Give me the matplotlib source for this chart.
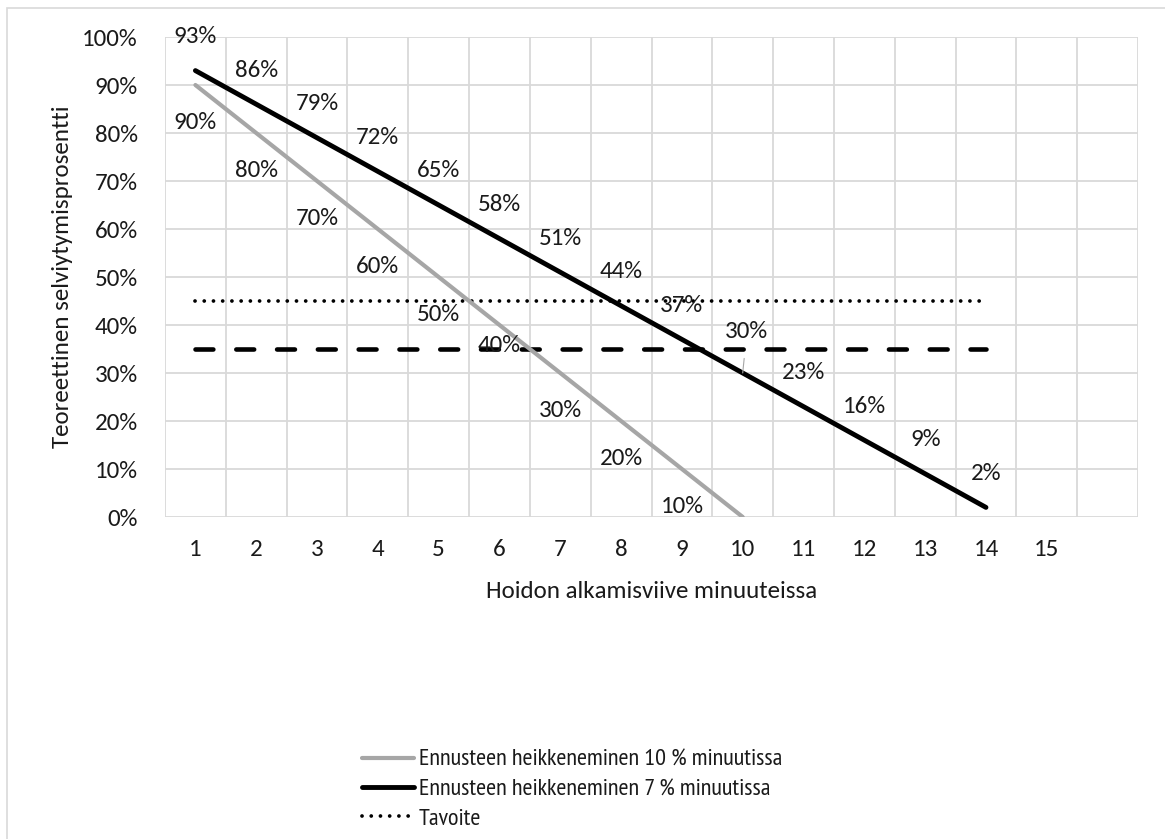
import matplotlib
matplotlib.use("Agg")
import matplotlib.pyplot as plt
from matplotlib.lines import Line2D
from matplotlib.patches import Rectangle

plt.rcParams['font.family'] = ['Carlito', 'DejaVu Sans']

# Data
minutes = list(range(1, 17))
tick_labels = [str(m) for m in range(1, 16)] + [""]
x_gray = list(range(1, 11))
survival_10 = [90, 80, 70, 60, 50, 40, 30, 20, 10, 0]
x_black = list(range(1, 15))
survival_7 = [93, 86, 79, 72, 65, 58, 51, 44, 37, 30, 23, 16, 9, 2]
target_level = 45
threshold_level = 35
ref_x = [1, 14]

label_gray = "Ennusteen heikkeneminen 10 % minuutissa"
label_black = "Ennusteen heikkeneminen 7 % minuutissa"
label_target = "Tavoite"

W, H, DPI = 1165, 839, 100
fig = plt.figure(figsize=(W / DPI, H / DPI), dpi=DPI)

# light chart border
fig.patches.append(Rectangle((7 / W, -0.1), 2.0, (H - 8) / H + 0.1, transform=fig.transFigure,
                             fill=False, edgecolor="#d9d9d9", linewidth=1.2))

left, right, bottom, top = 165, 1138, 517, 37
ax = fig.add_axes([left / W, (H - bottom) / H, (right - left) / W, (bottom - top) / H])

FS = 18
TXT = "#1a1a1a"
GRID = "#d9d9d9"
GRAY = "#a6a6a6"

ax.set_xlim(0.5, 16.5)
ax.set_ylim(0, 100)

# grid
for xv in [i + 0.5 for i in range(0, 17)]:
    ax.axvline(xv, color=GRID, lw=1.3, zorder=0)
for yv in range(0, 101, 10):
    ax.axhline(yv, color=GRID, lw=1.3, zorder=0)

for s in ax.spines.values():
    s.set_visible(False)

ax.set_xticks(minutes)
ax.set_xticklabels(tick_labels)
ax.set_yticks(range(0, 101, 10))
ax.set_yticklabels([f"{v}%" for v in range(0, 101, 10)])
ax.tick_params(length=0, labelsize=FS, labelcolor=TXT)
ax.tick_params(axis='x', pad=16)
ax.tick_params(axis='y', pad=19.5)

ax.set_xlabel("Hoidon alkamisviive minuuteissa", fontsize=FS, color=TXT, labelpad=15)
ax.set_ylabel("Teoreettinen selviytymisprosentti", fontsize=FS, color=TXT, labelpad=7)

# series
ax.plot(x_gray, survival_10, color=GRAY, lw=3.0, solid_capstyle="round", zorder=3)
ax.plot(x_black, survival_7, color="black", lw=3.5, solid_capstyle="round", zorder=4)
ax.plot(ref_x, [target_level] * 2, color="black", lw=2.7, linestyle=(0, (0.01, 2.45)),
        dash_capstyle="round", zorder=2)
ax.plot(ref_x, [threshold_level] * 2, color="black", lw=3.3, linestyle=(0, (3.9, 5.0)),
        dash_capstyle="round", zorder=2)

# data labels: gray series below the line, black series above it
gray_offsets = {40: -15}
for xv, yv in zip(x_gray[:-1], survival_10[:-1]):
    ax.annotate(f"{yv}%", (xv, yv), xytext=(0, gray_offsets.get(yv, -27)),
                textcoords="offset points", ha="center", va="center",
                fontsize=FS, color=TXT, zorder=5)
for xv, yv in zip(x_black, survival_7):
    if yv == 30:
        ax.annotate(f"{yv}%", (xv, yv), xytext=(3, 30), textcoords="offset points",
                    ha="center", va="center", fontsize=FS, color=TXT, zorder=5,
                    arrowprops=dict(arrowstyle="-", color=GRAY, lw=0.8,
                                    shrinkA=10, shrinkB=0))
    else:
        ax.annotate(f"{yv}%", (xv, yv), xytext=(0, 24.5), textcoords="offset points",
                    ha="center", va="center", fontsize=FS, color=TXT, zorder=5)

# legend
handles = [
    Line2D([], [], color=GRAY, lw=3.0, solid_capstyle="round"),
    Line2D([], [], color="black", lw=3.5, solid_capstyle="round"),
    Line2D([], [], color="black", lw=2.7, linestyle=(0, (0.01, 2.45)), dash_capstyle="round"),
]
leg = fig.legend(handles, [label_gray, label_black, label_target], loc="upper left",
                 bbox_to_anchor=(362 / W, (H - 749) / H), frameon=False,
                 prop={"family": ["PT Sans Narrow", "Carlito"], "size": 17.5},
                 handlelength=2.15, handletextpad=0.2, labelspacing=0.3, borderpad=0,
                 borderaxespad=0, labelcolor=TXT)

fig.savefig("out.png", dpi=DPI, facecolor="white")
